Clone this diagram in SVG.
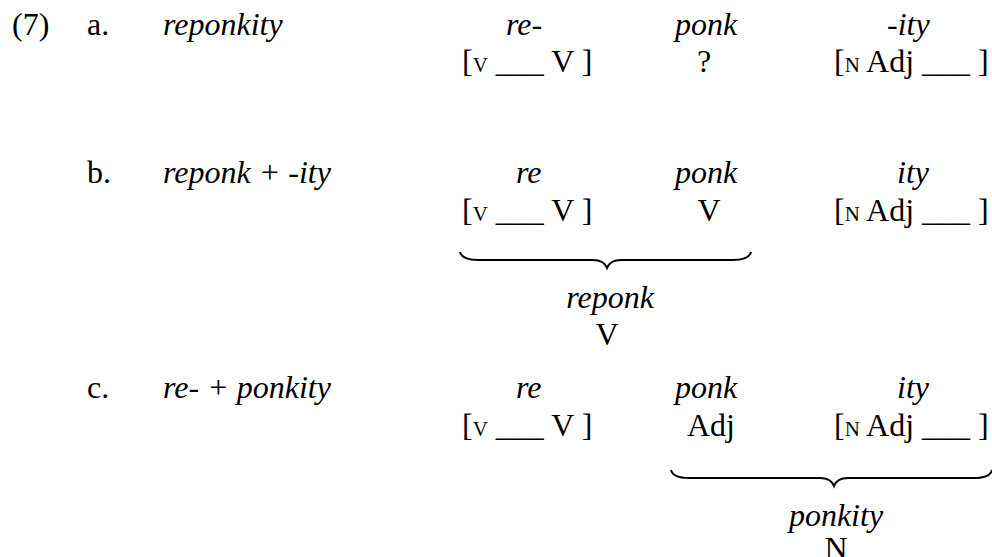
<svg xmlns="http://www.w3.org/2000/svg" width="992" height="557" viewBox="0 0 992 557">
<style>
text{font-family:"Liberation Serif","Times New Roman",serif;font-size:32px;fill:#000}
.i{font-style:italic}
.s{font-size:21px}
.m{text-anchor:middle}
.brace{fill:none;stroke:#000;stroke-width:2}
</style>
<rect width="992" height="557" fill="#fff"/>
<g id="label-7"><text x="12" y="35">(7)</text></g>
<g id="row-a">
<text x="87" y="35">a.</text>
<text class="i" x="163" y="35">reponkity</text>
<text class="i" x="506" y="35">re-</text>
<text class="i" x="675" y="35">ponk</text>
<text class="i" x="887" y="35">-ity</text>
<text x="462" y="72">[<tspan class="s">V</tspan> ___ V ]</text>
<text class="m" x="704" y="72">?</text>
<text x="834" y="72">[<tspan class="s">N</tspan> Adj ___ ]</text>
</g>
<g id="row-b">
<text x="87" y="183">b.</text>
<text class="i" x="163" y="183">reponk + -ity</text>
<text class="i" x="516" y="183">re</text>
<text class="i" x="675" y="183">ponk</text>
<text class="i" x="897" y="183">ity</text>
<text x="462" y="221">[<tspan class="s">V</tspan> ___ V ]</text>
<text class="m" x="709" y="221">V</text>
<text x="834" y="221">[<tspan class="s">N</tspan> Adj ___ ]</text>
</g>
<g id="result-b">
<text class="i m" x="610" y="308">reponk</text>
<text class="m" x="607" y="345">V</text>
</g>
<g id="row-c">
<text x="87" y="398">c.</text>
<text class="i" x="163" y="398">re- + ponkity</text>
<text class="i" x="516" y="398">re</text>
<text class="i" x="675" y="398">ponk</text>
<text class="i" x="897" y="398">ity</text>
<text x="462" y="436">[<tspan class="s">V</tspan> ___ V ]</text>
<text class="m" x="711" y="436">Adj</text>
<text x="834" y="436">[<tspan class="s">N</tspan> Adj ___ ]</text>
</g>
<g id="result-c">
<text class="i m" x="836" y="526">ponkity</text>
<text class="m" x="836" y="559">N</text>
</g>
<g id="connectors">
<path class="brace" d="M460,252 Q462,260 478,260 L593,260 Q604,260 607,268 Q610,260 621,260 L733,260 Q749,260 751,252"/>
<path class="brace" d="M671,470 Q673,478 689,478 L820,478 Q831,478 834,486 Q837,478 848,478 L974,478 Q990,478 992,470"/>
</g>
</svg>
